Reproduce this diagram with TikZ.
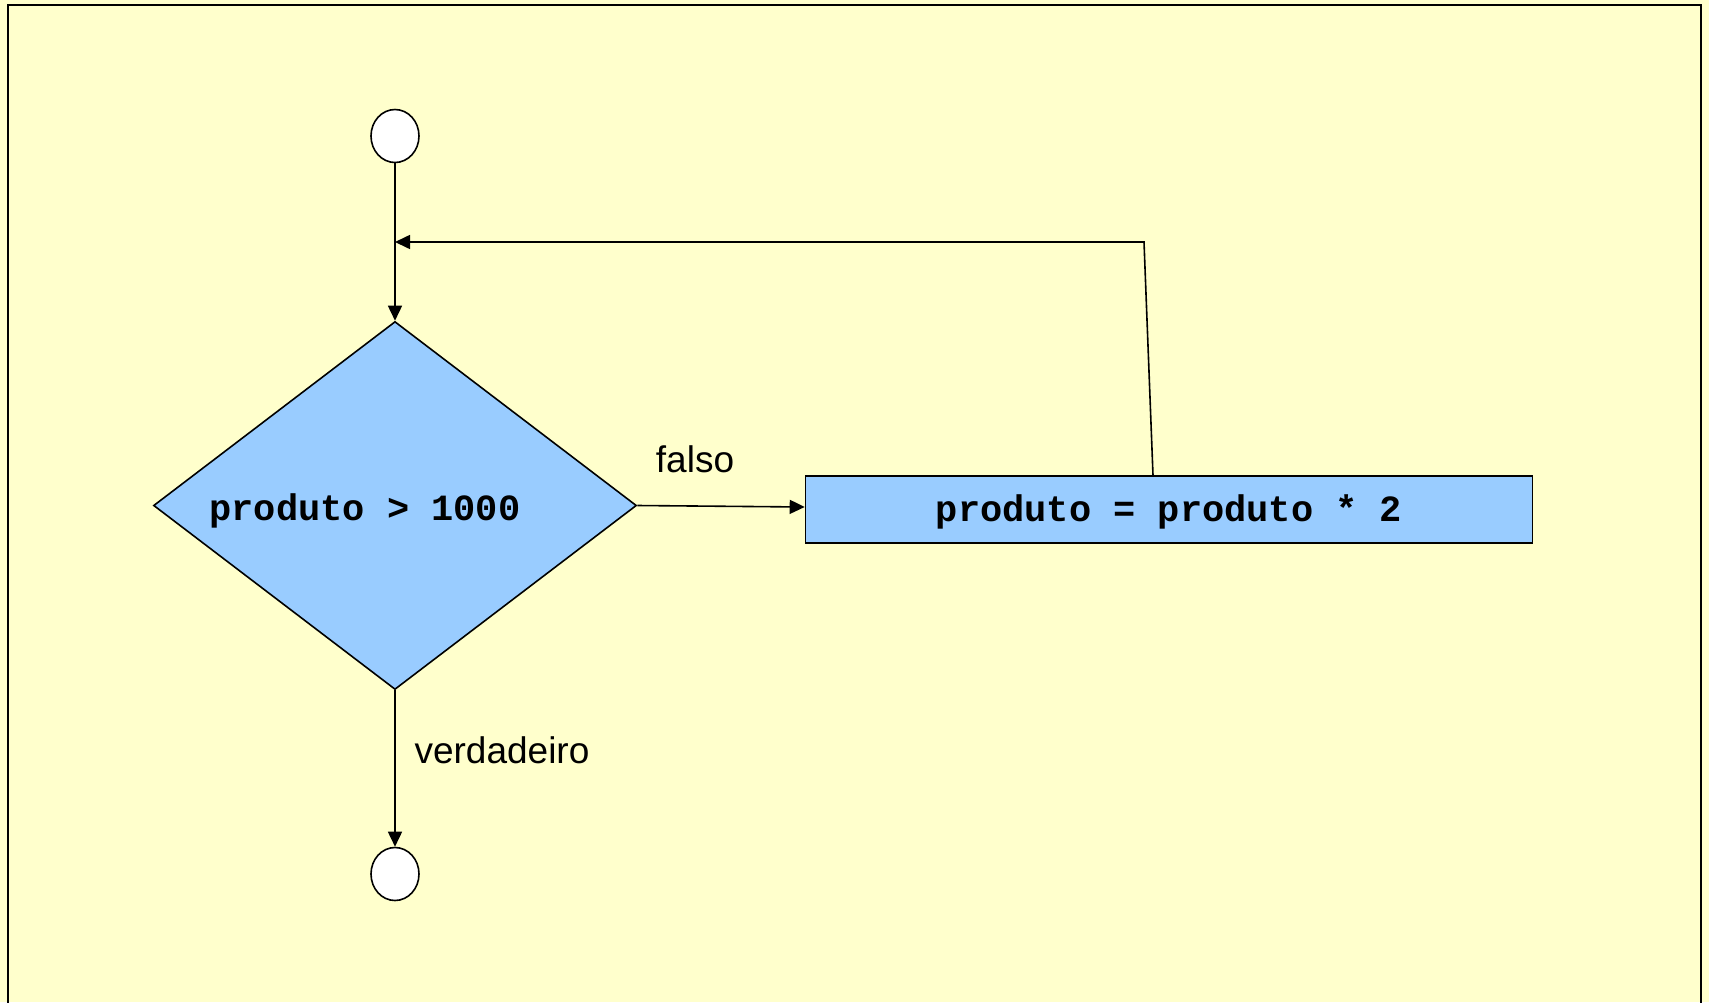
\documentclass[tikz,border=0pt]{standalone}
\usepackage{fontspec}
\setmainfont{Liberation Sans}
\setmonofont{Liberation Mono}
\usepackage{tikz}
\usetikzlibrary{arrows.meta,shapes.geometric,positioning}

\definecolor{fundo}{HTML}{FFFFCC}
\definecolor{azul}{HTML}{99CCFF}

\tikzset{
  linha/.style={line width=1.6pt},
  seta/.style={linha, -{Triangle[length=15pt,width=14pt]}},
  terminal/.style={ellipse, draw, linha, fill=white, inner sep=0pt,
    minimum width=48pt, minimum height=53pt},
  decisao/.style={diamond, draw, linha, fill=azul, inner sep=0pt,
    minimum width=483pt, minimum height=368pt},
  bloco/.style={rectangle, draw, linha, fill=azul, inner sep=0pt,
    minimum width=727pt, minimum height=67pt},
  codigo/.style={font=\fontsize{37}{40}\selectfont\ttfamily\bfseries},
  rotulo/.style={font=\fontsize{37}{40}\selectfont}
}

\begin{document}
\begin{tikzpicture}[x=1pt, y=-1pt]
        \useasboundingbox (0,0) rectangle (1709,1002);
        % fundo e moldura
        \fill[fundo] (0,0) rectangle (1709,1002);
        \draw[line width=2pt] (8,1012) -- (8,5) -- (1701,5) -- (1701,1012);

        \node[terminal] (inicio) at (395,136) {};
        \node[decisao] (teste) at (395,505.5) {};
        \node[codigo] (testetxt) at (365,511) {produto > 1000};
        \node[bloco] (dobra) at (1169,509.5) {};
        \node[codigo] at ([yshift=-2pt]dobra.center) {produto = produto * 2};
        \node[terminal] (fim) at (395,874) {};

        \coordinate (canto) at (1144,242);
        \coordinate (volta) at (395,242);

        \draw[seta] (inicio) -- (teste.north);
        \draw[seta] (teste.east) -- ([yshift=2.5pt]dobra.west);
        \draw[seta] ([xshift=-16pt]dobra.north) -- (canto) -- (volta);
        \draw[seta] (teste.south) -- (fim);

        \node[rotulo] (falso) at (695,459) {falso};
        \node[rotulo] (verdadeiro) at (502,750) {verdadeiro};
    \end{tikzpicture}
\end{document}
